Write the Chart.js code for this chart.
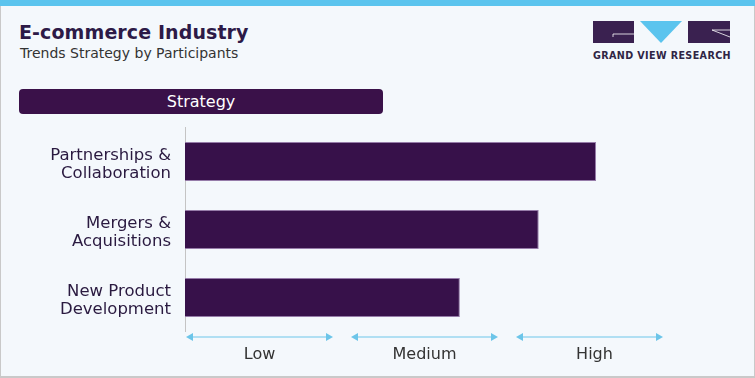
<!DOCTYPE html>
<html>
<head>
<meta charset="utf-8">
<script src="https://cdn.jsdelivr.net/npm/chart.js@4/dist/chart.umd.min.js"></script>
<style>
  html, body { margin: 0; padding: 0; }
  body { width: 755px; height: 378px; overflow: hidden; background: #F4F8FC; position: relative; font-family: "DejaVu Sans", sans-serif; }
  #frame { position: absolute; left: 0; top: 0; width: 755px; height: 378px; box-sizing: border-box; border-left: 1px solid #c9c9c9; border-right: 1px solid #c9c9c9; border-bottom: 2px solid #c9c9c9; }
  #topbar { position: absolute; left: 0; top: 0; width: 755px; height: 6px; background: #5BC4EE; }
  #title { position: absolute; left: 19px; top: 21px; font-size: 19px; font-weight: bold; color: #2d1a47; letter-spacing: 0.1px; white-space: nowrap; }
  #subtitle { position: absolute; left: 20px; top: 45px; font-size: 14px; color: #333; white-space: nowrap; }
  #header { position: absolute; left: 19px; top: 89px; width: 364px; height: 25px; background: #3A1149; border-radius: 4px; color: #fff; font-size: 16px; text-align: center; line-height: 25px; }
  #logo { position: absolute; left: 0; top: 0; }
  #logotext { position: absolute; left: 593px; top: 50px; font-size: 9.6px; font-weight: bold; color: #2f2545; letter-spacing: 0.38px; white-space: nowrap; }
  #wrap { position: absolute; left: 0; top: 0; width: 755px; height: 378px; }
</style>
</head>
<body>
<div id="frame"></div>
<div id="topbar"></div>
<div id="title">E-commerce Industry</div>
<div id="subtitle">Trends Strategy by Participants</div>
<div id="header">Strategy</div>
<svg id="logo" width="755" height="70">
  <rect x="593" y="21" width="41" height="22" fill="#3a2150"/>
  <polyline points="613,37 613,34 634,34" fill="none" stroke="#ffffff" stroke-width="0.8"/>
  <polygon points="640,21 682,21 661,43" fill="#5BC4EE"/>
  <rect x="688" y="21" width="42" height="22" fill="#3a2150"/>
  <polyline points="730,30 712,30 730,37" fill="none" stroke="#ffffff" stroke-width="0.8"/>
</svg>
<div id="logotext">GRAND VIEW RESEARCH</div>
<div id="wrap"><canvas id="c" width="755" height="378"></canvas></div>
<script>
const categories = [["Partnerships &", "Collaboration"], ["Mergers &", "Acquisitions"], ["New Product", "Development"]];
const strategyValues = [86, 74, 57.5];
const levelLabels = ["Low", "Medium", "High"];

const arrowPlugin = {
  id: 'levelArrows',
  afterDraw(chart) {
    const ctx = chart.ctx;
    const xs = chart.scales.x;
    const left = xs.getPixelForValue(xs.min) + 1;
    const right = xs.getPixelForValue(xs.max);
    const gap = 18;
    const n = levelLabels.length;
    const w = (right - left - gap * (n - 1)) / n;
    const y = chart.chartArea.bottom + 5.5;
    ctx.save();
    ctx.lineWidth = 1.2;
    for (let i = 0; i < n; i++) {
      const a = left + i * (w + gap);
      const b = a + w;
      ctx.strokeStyle = '#6CC5E9';
      ctx.fillStyle = '#6CC5E9';
      ctx.beginPath();
      ctx.moveTo(a + 2, y);
      ctx.lineTo(b - 2, y);
      ctx.stroke();
      ctx.beginPath();
      ctx.moveTo(a, y); ctx.lineTo(a + 7, y - 4); ctx.lineTo(a + 7, y + 4); ctx.closePath(); ctx.fill();
      ctx.beginPath();
      ctx.moveTo(b, y); ctx.lineTo(b - 7, y - 4); ctx.lineTo(b - 7, y + 4); ctx.closePath(); ctx.fill();
      ctx.font = '16px "DejaVu Sans"';
      ctx.fillStyle = '#333333';
      ctx.textAlign = 'center';
      ctx.textBaseline = 'middle';
      ctx.fillText(levelLabels[i], (a + b) / 2 + (i === 2 ? 5 : 0), y + 18);
    }
    ctx.restore();
  }
};

new Chart(document.getElementById('c'), {
  type: 'bar',
  data: {
    labels: categories,
    datasets: [{
      data: strategyValues,
      backgroundColor: '#37114A',
      borderColor: 'rgba(140,110,160,0.9)',
      borderWidth: 1,
      borderSkipped: 'left',
      categoryPercentage: 1,
      barPercentage: 0.574
    }]
  },
  options: {
    indexAxis: 'y',
    responsive: false,
    animation: false,
    devicePixelRatio: 1,
    layout: { padding: { left: 0, top: 127.5, right: 92, bottom: 46.5 } },
    plugins: { legend: { display: false }, tooltip: { enabled: false }, title: { display: false } },
    scales: {
      x: { display: false, min: 0, max: 100 },
      y: {
        afterFit(scale) { scale.width = 185; },
        grid: { display: false, drawTicks: false },
        border: { display: true, color: '#c4c4c4', width: 1 },
        ticks: { padding: 14, labelOffset: 3, color: '#2a1a40', font: { family: 'DejaVu Sans', size: 16.5, lineHeight: 1.1 } }
      }
    }
  },
  plugins: [arrowPlugin]
});
</script>
</body>
</html>
